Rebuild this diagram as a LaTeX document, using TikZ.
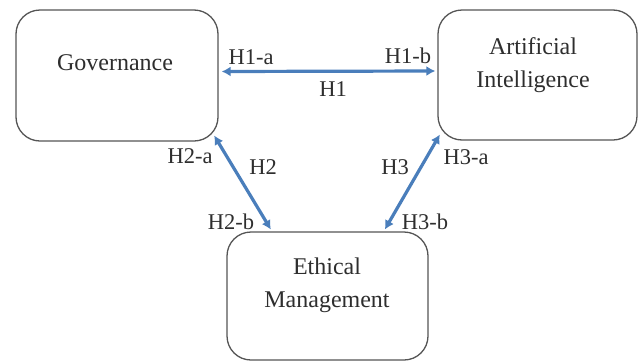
\documentclass[tikz,border=0pt]{standalone}
\usepackage{fontspec}
\setmainfont{Liberation Serif}
\usetikzlibrary{arrows.meta,calc}
\definecolor{arrowblue}{HTML}{4A7EBB}
\definecolor{boxgray}{HTML}{555555}
\definecolor{txtgray}{HTML}{2E2E2E}
\tikzset{
  concept/.style={draw=boxgray, line width=1.3pt, rounded corners=24pt, fill=white},
  conceptText/.style={align=center, font=\fontsize{24}{33}\selectfont, text=txtgray},
  hyp/.style={font=\fontsize{22.5}{24}\selectfont, text=txtgray, inner sep=0pt},
  link/.style={draw=arrowblue, line width=3.2pt, {Latex[length=9pt,width=10pt]}-{Latex[length=9pt,width=10pt]}, shorten <=1pt, shorten >=1pt}
}
\begin{document}
\begin{tikzpicture}[x=1pt,y=-1pt]
\useasboundingbox (0,0) rectangle (639,362);
\node[concept, minimum width=202pt, minimum height=131pt] (gov) at (117,75.5) {};
\node[concept, minimum width=199pt, minimum height=130pt] (ai) at (537.5,75) {};
\node[concept, minimum width=201pt, minimum height=128pt] (eth) at (327.5,296) {};
\node[conceptText] (govt) at (115,63) {Governance};
\node[conceptText] (ait) at (533,65) {Artificial\\Intelligence};
\node[conceptText] (etht) at (327,285) {Ethical\\Management};
\coordinate (h1s) at ($(gov.east)+(2,-4)$);
\coordinate (h1e) at ($(ai.west)+(-1,-4)$);
\coordinate (h2s) at ($(gov.south east)+(-5,-7)$);
\coordinate (h2e) at ($(eth.north west)+(45,-1)$);
\coordinate (h3s) at ($(eth.north west)+(158,-1)$);
\coordinate (h3e) at ($(ai.south west)+(3,-7)$);
\draw[link] (h1s) -- (h1e);
\draw[link] (h2s) -- (h2e);
\draw[link] (h3s) -- (h3e);
\node[hyp] (h1a) at (251,57) {H1-a};
\node[hyp] (h1b) at (408,56) {H1-b};
\node[hyp] (h1) at (333,89) {H1};
\node[hyp] (h2a) at (190,156) {H2-a};
\node[hyp] (h2) at (263,167) {H2};
\node[hyp] (h2b) at (231,222) {H2-b};
\node[hyp] (h3) at (395,167) {H3};
\node[hyp] (h3a) at (466,157) {H3-a};
\node[hyp] (h3b) at (425,222) {H3-b};
\end{tikzpicture}
\end{document}
